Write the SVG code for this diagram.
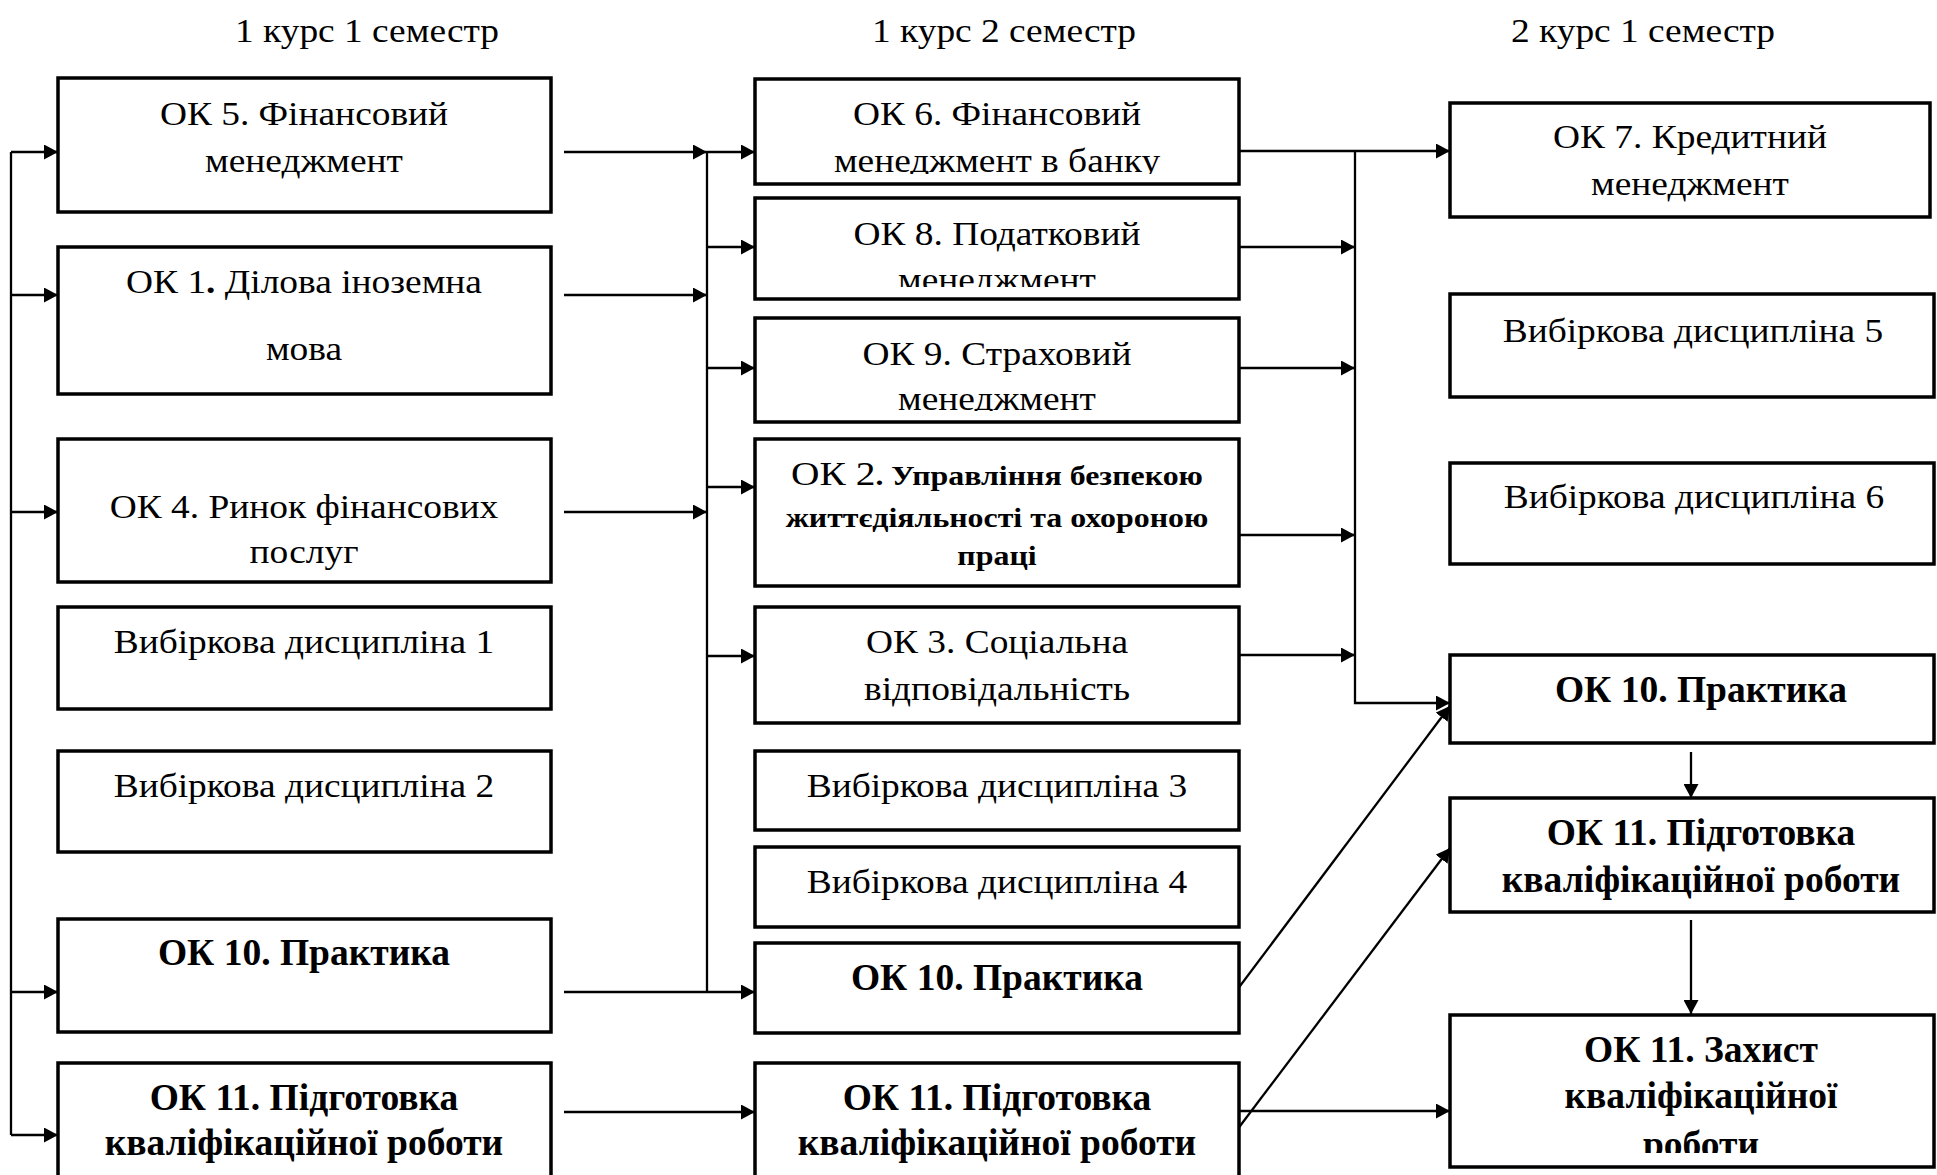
<svg xmlns="http://www.w3.org/2000/svg" width="1937" height="1175" viewBox="0 0 1937 1175">
<style>
.box{fill:#fff;stroke:#000;stroke-width:3.5}
.t{font-family:"Liberation Serif","Times New Roman",serif;font-size:34px;text-anchor:middle;fill:#000}
.b{font-weight:bold;font-size:37.5px}
.s{font-weight:bold;font-size:27.5px}
.c{fill:none;stroke:#000;stroke-width:2.3}
.a{marker-end:url(#arr)}
</style>
<defs>
<marker id="arr" markerUnits="userSpaceOnUse" markerWidth="15" markerHeight="15" refX="14" refY="7.5" orient="auto">
<path d="M0,0 L14,7.5 L0,15 z" fill="#000"/>
</marker>
<clipPath id="cl6"><rect x="755" y="79" width="484" height="95"/></clipPath>
<clipPath id="cl8"><rect x="755" y="198" width="484" height="89"/></clipPath>
<clipPath id="cl9"><rect x="755" y="318" width="484" height="93"/></clipPath>
<clipPath id="cl11"><rect x="1450" y="1015" width="484" height="138"/></clipPath>
</defs>
<rect width="1937" height="1175" fill="#fff"/>

<g id="titles">
<text class="t" transform="translate(367 42) scale(1.1 1)">1 курс 1 семестр</text>
<text class="t" transform="translate(1004 42) scale(1.1 1)">1 курс 2 семестр</text>
<text class="t" transform="translate(1643 42) scale(1.1 1)">2 курс 1 семестр</text>
</g>

<g id="connectors">
<path class="c" d="M11 152 V1135"/>
<path class="c a" d="M11 152 H58"/>
<path class="c a" d="M11 295 H58"/>
<path class="c a" d="M11 512 H58"/>
<path class="c a" d="M11 992 H58"/>
<path class="c a" d="M11 1135 H58"/>
<path class="c a" d="M564 152 H707"/>
<path class="c a" d="M564 295 H707"/>
<path class="c a" d="M564 512 H707"/>
<path class="c a" d="M564 992 H755"/>
<path class="c a" d="M564 1112 H755"/>
<path class="c" d="M707 152 V992"/>
<path class="c a" d="M707 152 H755"/>
<path class="c a" d="M707 247 H755"/>
<path class="c a" d="M707 368 H755"/>
<path class="c a" d="M707 487 H755"/>
<path class="c a" d="M707 656 H755"/>
<path class="c a" d="M1239 151 H1450"/>
<path class="c a" d="M1239 247 H1355"/>
<path class="c a" d="M1239 368 H1355"/>
<path class="c a" d="M1239 535 H1355"/>
<path class="c a" d="M1239 655 H1355"/>
<path class="c a" d="M1355 151 V703 H1450"/>
<path class="c a" d="M1237 990 L1450 706"/>
<path class="c a" d="M1237 1130 L1450 848"/>
<path class="c a" d="M1239 1111 H1450"/>
<path class="c a" d="M1691 752 V798"/>
<path class="c a" d="M1691 920 V1014"/>
</g>

<g id="ok5"><rect class="box" x="58" y="78" width="493" height="134"/>
<text class="t" transform="translate(304 125) scale(1.1 1)">ОК 5. Фінансовий</text>
<text class="t" transform="translate(304 172) scale(1.1 1)">менеджмент</text></g>
<g id="ok1"><rect class="box" x="58" y="247" width="493" height="147"/>
<text class="t" transform="translate(304 293) scale(1.1 1)">ОК 1<tspan font-weight="bold">.</tspan> Ділова іноземна</text>
<text class="t" transform="translate(304 360) scale(1.1 1)">мова</text></g>
<g id="ok4"><rect class="box" x="58" y="439" width="493" height="143"/>
<text class="t" transform="translate(304 518) scale(1.1 1)">ОК 4. Ринок фінансових</text>
<text class="t" transform="translate(304 563) scale(1.1 1)">послуг</text></g>
<g id="vyb1"><rect class="box" x="58" y="607" width="493" height="102"/>
<text class="t" transform="translate(304 653) scale(1.1 1)">Вибіркова дисципліна 1</text></g>
<g id="vyb2"><rect class="box" x="58" y="751" width="493" height="101"/>
<text class="t" transform="translate(304 797) scale(1.1 1)">Вибіркова дисципліна 2</text></g>
<g id="ok10a"><rect class="box" x="58" y="919" width="493" height="113"/>
<text class="t b" x="304" y="965">ОК 10. Практика</text></g>
<g id="ok11a"><rect class="box" x="58" y="1063" width="493" height="130"/>
<text class="t b" x="304" y="1110">ОК 11. Підготовка</text><text class="t b" x="304" y="1155">кваліфікаційної роботи</text></g>

<g id="ok6"><rect class="box" x="755" y="79" width="484" height="105"/>
<text class="t" transform="translate(997 125) scale(1.1 1)">ОК 6. Фінансовий</text>
<g clip-path="url(#cl6)"><text class="t" transform="translate(997 172) scale(1.1 1)">менеджмент в банку</text></g></g>
<g id="ok8"><rect class="box" x="755" y="198" width="484" height="101"/>
<text class="t" transform="translate(997 245) scale(1.1 1)">ОК 8. Податковий</text>
<g clip-path="url(#cl8)"><text class="t" transform="translate(997 291) scale(1.1 1)">менеджмент</text></g></g>
<g id="ok9"><rect class="box" x="755" y="318" width="484" height="104"/>
<text class="t" transform="translate(997 365) scale(1.1 1)">ОК 9. Страховий</text>
<g clip-path="url(#cl9)"><text class="t" transform="translate(997 410) scale(1.1 1)">менеджмент</text></g></g>
<g id="ok2"><rect class="box" x="755" y="439" width="484" height="147"/>
<text class="t" transform="translate(997 485) scale(1.16 1)" font-size="32.5">ОК 2<tspan class="s">. Управління безпекою</tspan></text>
<text class="t s" transform="translate(997 527) scale(1.16 1)">життєдіяльності та охороною</text>
<text class="t s" transform="translate(997 565) scale(1.16 1)">праці</text></g>
<g id="ok3"><rect class="box" x="755" y="607" width="484" height="116"/>
<text class="t" transform="translate(997 653) scale(1.1 1)">ОК 3. Соціальна</text>
<text class="t" transform="translate(997 700) scale(1.1 1)">відповідальність</text></g>
<g id="vyb3"><rect class="box" x="755" y="751" width="484" height="79"/>
<text class="t" transform="translate(997 797) scale(1.1 1)">Вибіркова дисципліна 3</text></g>
<g id="vyb4"><rect class="box" x="755" y="847" width="484" height="80"/>
<text class="t" transform="translate(997 893) scale(1.1 1)">Вибіркова дисципліна 4</text></g>
<g id="ok10b"><rect class="box" x="755" y="943" width="484" height="90"/>
<text class="t b" x="997" y="990">ОК 10. Практика</text></g>
<g id="ok11b"><rect class="box" x="755" y="1063" width="484" height="130"/>
<text class="t b" x="997" y="1110">ОК 11. Підготовка</text><text class="t b" x="997" y="1155">кваліфікаційної роботи</text></g>

<g id="ok7"><rect class="box" x="1450" y="103" width="480" height="114"/>
<text class="t" transform="translate(1690 148) scale(1.1 1)">ОК 7. Кредитний</text>
<text class="t" transform="translate(1690 195) scale(1.1 1)">менеджмент</text></g>
<g id="vyb5"><rect class="box" x="1450" y="294" width="484" height="103"/>
<text class="t" transform="translate(1693 342) scale(1.1 1)">Вибіркова дисципліна 5</text></g>
<g id="vyb6"><rect class="box" x="1450" y="463" width="484" height="101"/>
<text class="t" transform="translate(1694 508) scale(1.1 1)">Вибіркова дисципліна 6</text></g>
<g id="ok10c"><rect class="box" x="1450" y="655" width="484" height="88"/>
<text class="t b" x="1701" y="702">ОК 10. Практика</text></g>
<g id="ok11c"><rect class="box" x="1450" y="798" width="484" height="114"/>
<text class="t b" x="1701" y="845">ОК 11. Підготовка</text><text class="t b" x="1701" y="892">кваліфікаційної роботи</text></g>
<g id="ok11d"><rect class="box" x="1450" y="1015" width="484" height="152"/>
<text class="t b" x="1701" y="1062">ОК 11. Захист</text><text class="t b" x="1701" y="1108">кваліфікаційної</text>
<g clip-path="url(#cl11)"><text class="t b" x="1701" y="1157">роботи</text></g></g>
</svg>
